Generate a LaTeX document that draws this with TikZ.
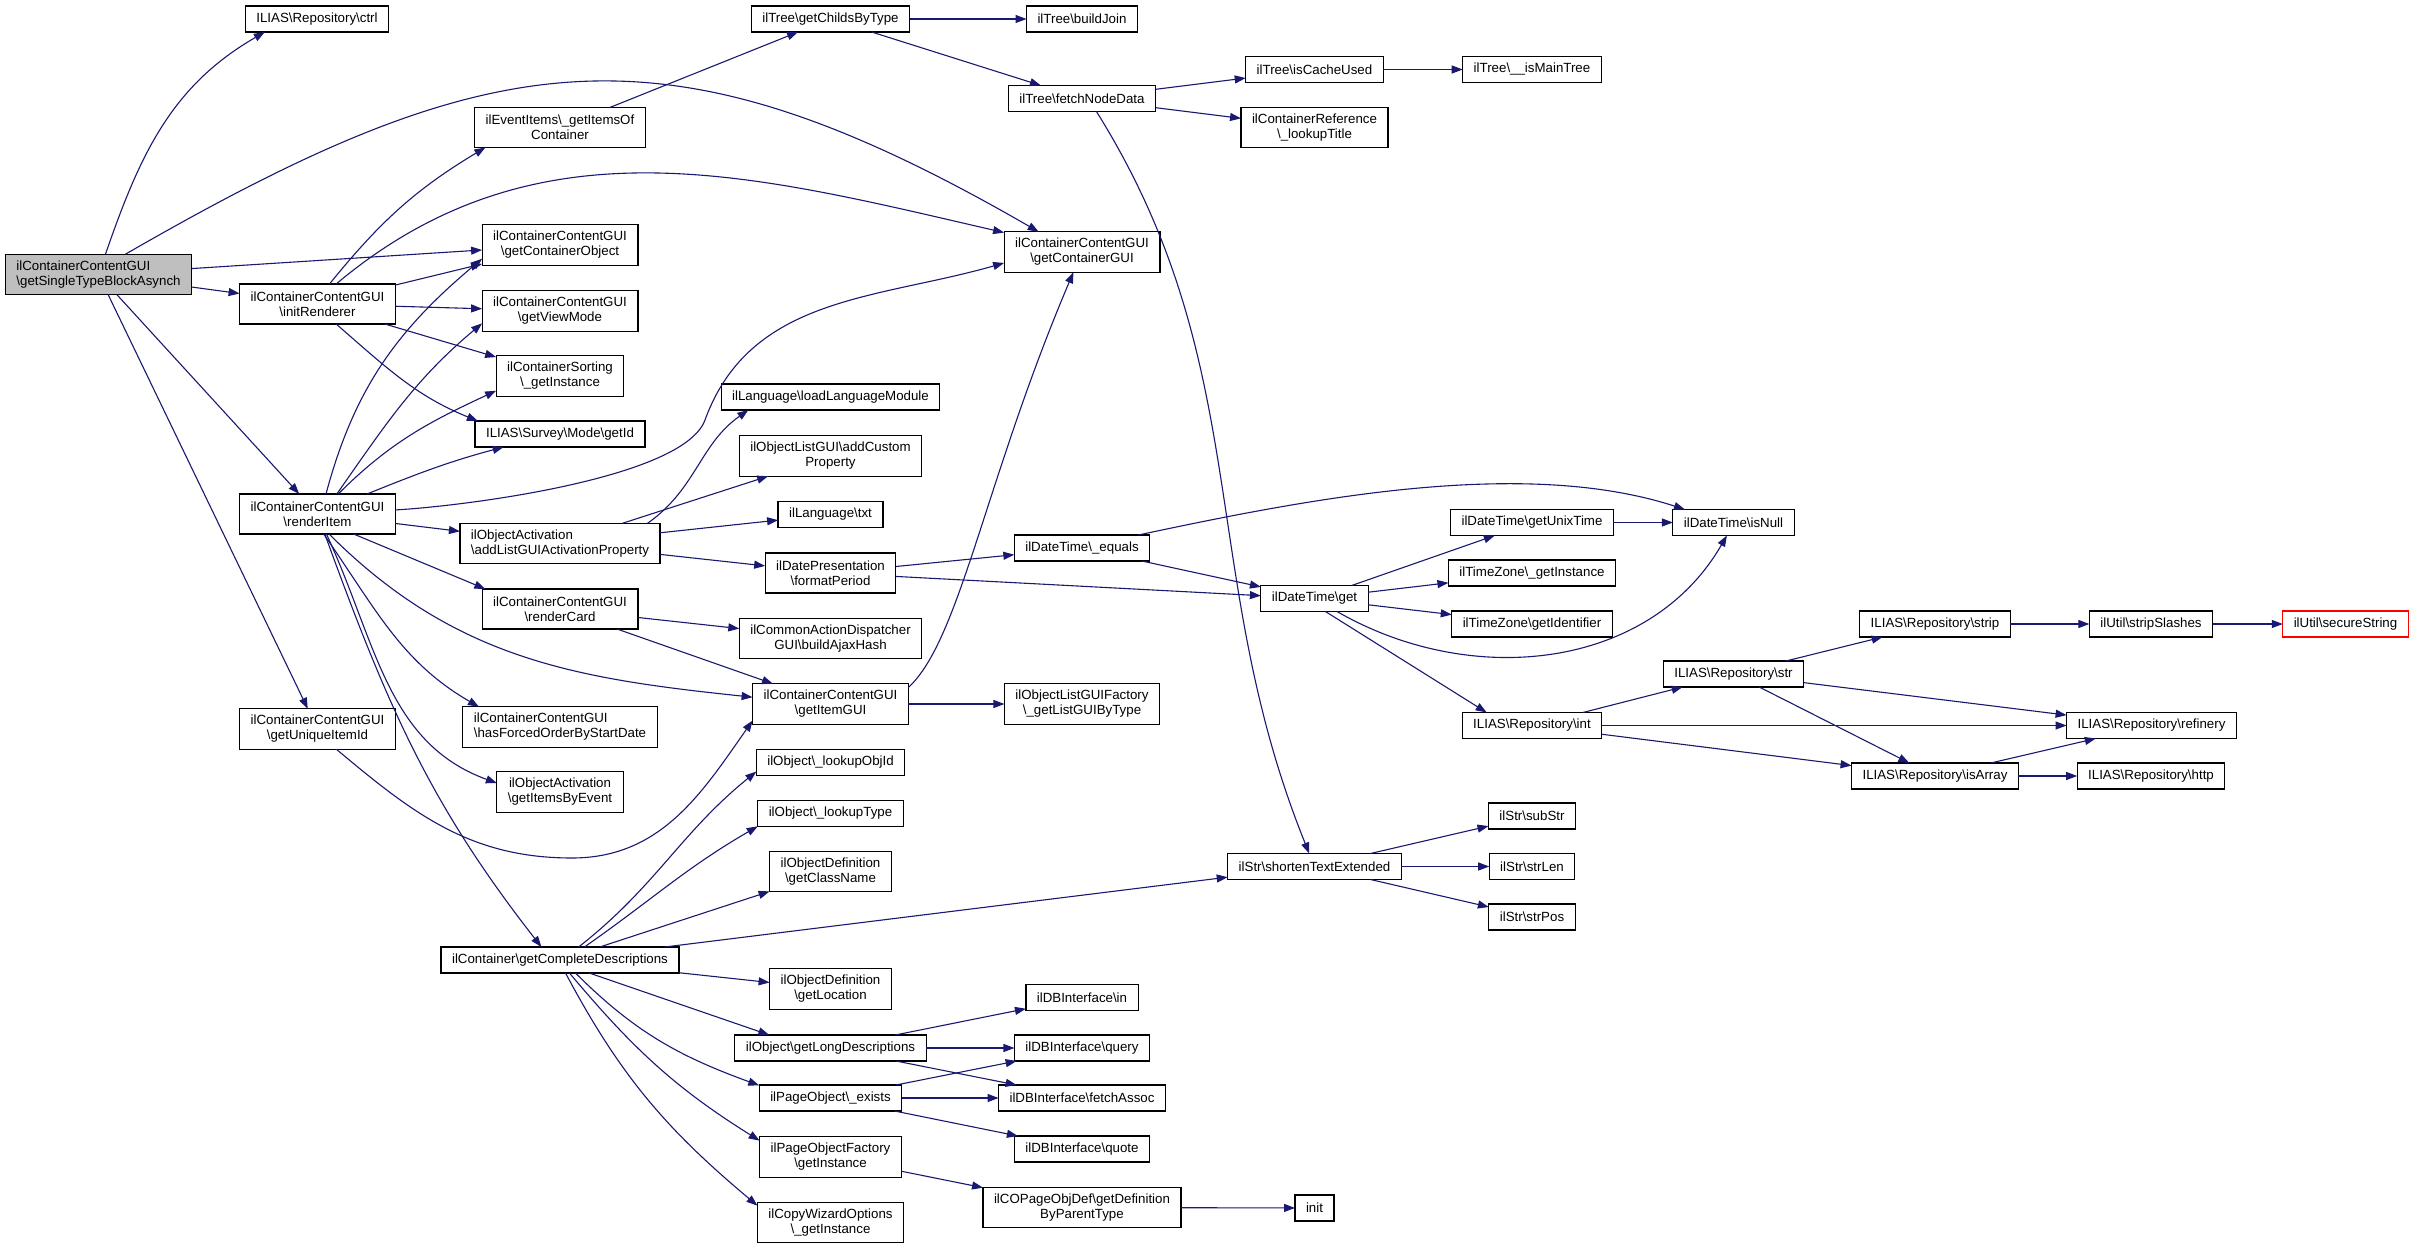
\documentclass[tikz,border=0pt]{standalone}
\usepackage{fontspec}
\setmainfont{Liberation Sans}
\usetikzlibrary{arrows.meta}
\newlength{\myboxlinewidth}
\setlength{\myboxlinewidth}{1.2pt}
\newlength{\myedgelinewidth}
\setlength{\myedgelinewidth}{1.1pt}
\newcommand{\mybs}{\textbackslash}
\definecolor{edgeblue}{HTML}{191970}
\definecolor{startgray}{HTML}{BFBFBF}

\begin{document}
\begin{tikzpicture}[%
            x=1pt,y=-1pt,%
            fnbox/.style={
                rectangle,draw=black,fill=white,
                line width=\myboxlinewidth,
                anchor=center,align=center,
                inner xsep=11pt,inner ysep=6.5pt,outer sep=0pt,
                font=\fontsize{13.3}{15}\selectfont,
                minimum height=26pt,
                },
            twoline/.style={fnbox,minimum height=40pt},
            startbox/.style={twoline,fill=startgray,align=left},
            callarrow/.style={
                draw=edgeblue,
                line width=\myedgelinewidth,
                -{Triangle[length=11pt,width=8pt]},
                },
            ]
        \useasboundingbox[fill=white] (0,0) rectangle (2415,1249);

        \node[startbox] (blockasynch) at (98.5,274.5) {ilContainerContentGUI\\\mybs{}getSingleTypeBlockAsynch};
        \node[fnbox] (ctrl) at (317,19) {ILIAS\mybs{}Repository\mybs{}ctrl};
        \node[twoline] (initrenderer) at (317.5,304) {ilContainerContentGUI\\\mybs{}initRenderer};
        \node[twoline] (renderitem) at (317.5,514) {ilContainerContentGUI\\\mybs{}renderItem};
        \node[twoline] (uniqueid) at (317.5,729) {ilContainerContentGUI\\\mybs{}getUniqueItemId};

        \node[twoline] (eventitems) at (560,127.5) {ilEventItems\mybs{}\_getItemsOf\\Container};
        \node[twoline] (contobj) at (560,245) {ilContainerContentGUI\\\mybs{}getContainerObject};
        \node[twoline] (viewmode) at (560,311) {ilContainerContentGUI\\\mybs{}getViewMode};
        \node[twoline] (sorting) at (560,376) {ilContainerSorting\\\mybs{}\_getInstance};
        \node[fnbox] (surveyid) at (560,434) {ILIAS\mybs{}Survey\mybs{}Mode\mybs{}getId};
        \node[twoline,align=left] (actprop) at (560,543.5) {ilObjectActivation\\\mybs{}addListGUIActivationProperty};
        \node[twoline] (rendercard) at (560,609) {ilContainerContentGUI\\\mybs{}renderCard};
        \node[twoline,align=left] (forcedorder) at (560,727) {ilContainerContentGUI\\\mybs{}hasForcedOrderByStartDate};
        \node[twoline] (itemsbyevent) at (560,792) {ilObjectActivation\\\mybs{}getItemsByEvent};
        \node[fnbox] (compdesc) at (560,960) {ilContainer\mybs{}getCompleteDescriptions};

        \node[fnbox] (childsbytype) at (830.5,19) {ilTree\mybs{}getChildsByType};
        \node[fnbox] (loadlang) at (830.5,397) {ilLanguage\mybs{}loadLanguageModule};
        \node[twoline] (customprop) at (830.5,456) {ilObjectListGUI\mybs{}addCustom\\Property};
        \node[fnbox] (langtxt) at (830.5,514.5) {ilLanguage\mybs{}txt};
        \node[twoline] (formatperiod) at (830.5,573) {ilDatePresentation\\\mybs{}formatPeriod};
        \node[twoline] (ajaxhash) at (830.5,638.5) {ilCommonActionDispatcher\\GUI\mybs{}buildAjaxHash};
        \node[twoline] (itemgui) at (830.5,704) {ilContainerContentGUI\\\mybs{}getItemGUI};
        \node[fnbox] (lookupobjid) at (830.5,762.5) {ilObject\mybs{}\_lookupObjId};
        \node[fnbox] (lookuptype) at (830.5,813.5) {ilObject\mybs{}\_lookupType};
        \node[twoline] (classname) at (830.5,871.5) {ilObjectDefinition\\\mybs{}getClassName};
        \node[twoline] (location) at (830.5,989) {ilObjectDefinition\\\mybs{}getLocation};
        \node[fnbox] (longdesc) at (830.5,1048) {ilObject\mybs{}getLongDescriptions};
        \node[fnbox] (pageexists) at (830.5,1098) {ilPageObject\mybs{}\_exists};
        \node[twoline] (pagefactory) at (830.5,1157) {ilPageObjectFactory\\\mybs{}getInstance};
        \node[twoline] (copywizard) at (830.5,1222.5) {ilCopyWizardOptions\\\mybs{}\_getInstance};

        \node[fnbox] (buildjoin) at (1082,19) {ilTree\mybs{}buildJoin};
        \node[fnbox] (fetchnode) at (1082,98.5) {ilTree\mybs{}fetchNodeData};
        \node[twoline] (contgui) at (1082,252) {ilContainerContentGUI\\\mybs{}getContainerGUI};
        \node[fnbox] (dtequals) at (1082,548) {ilDateTime\mybs{}\_equals};
        \node[twoline] (listgui) at (1082,704) {ilObjectListGUIFactory\\\mybs{}\_getListGUIByType};
        \node[fnbox] (dbin) at (1082,997.5) {ilDBInterface\mybs{}in};
        \node[fnbox] (dbquery) at (1082,1048) {ilDBInterface\mybs{}query};
        \node[fnbox] (dbfetch) at (1082,1098) {ilDBInterface\mybs{}fetchAssoc};
        \node[fnbox] (dbquote) at (1082,1149) {ilDBInterface\mybs{}quote};
        \node[twoline] (copagedef) at (1082,1207.5) {ilCOPageObjDef\mybs{}getDefinition\\ByParentType};

        \node[fnbox] (cacheused) at (1314.5,69.5) {ilTree\mybs{}isCacheUsed};
        \node[twoline] (lookuptitle) at (1314.5,127.5) {ilContainerReference\\\mybs{}\_lookupTitle};
        \node[fnbox] (dtget) at (1314.5,598.5) {ilDateTime\mybs{}get};
        \node[fnbox] (shorten) at (1314.5,866.5) {ilStr\mybs{}shortenTextExtended};
        \node[fnbox] (init) at (1314.5,1208) {init};

        \node[fnbox] (maintree) at (1532,69.5) {ilTree\mybs{}\_\_isMainTree};
        \node[fnbox] (unixtime) at (1532,522.5) {ilDateTime\mybs{}getUnixTime};
        \node[fnbox] (tzinstance) at (1532,573) {ilTimeZone\mybs{}\_getInstance};
        \node[fnbox] (tzident) at (1532,624) {ilTimeZone\mybs{}getIdentifier};
        \node[fnbox] (repoint) at (1532,725.5) {ILIAS\mybs{}Repository\mybs{}int};
        \node[fnbox] (substr) at (1532,816) {ilStr\mybs{}subStr};
        \node[fnbox] (strlen) at (1532,866.5) {ilStr\mybs{}strLen};
        \node[fnbox] (strpos) at (1532,917) {ilStr\mybs{}strPos};

        \node[fnbox] (isnull) at (1733.5,522.5) {ilDateTime\mybs{}isNull};
        \node[fnbox] (repostr) at (1733.5,674) {ILIAS\mybs{}Repository\mybs{}str};
        \node[fnbox] (repostrip) at (1935,624) {ILIAS\mybs{}Repository\mybs{}strip};
        \node[fnbox] (isarray) at (1935,776) {ILIAS\mybs{}Repository\mybs{}isArray};
        \node[fnbox] (stripslashes) at (2151,624) {ilUtil\mybs{}stripSlashes};
        \node[fnbox] (refinery) at (2151.5,725.5) {ILIAS\mybs{}Repository\mybs{}refinery};
        \node[fnbox] (http) at (2151,776) {ILIAS\mybs{}Repository\mybs{}http};
        \node[fnbox,draw=red] (securestring) at (2345.5,624) {ilUtil\mybs{}secureString};

        \draw[callarrow] (blockasynch.71) to[out=71,in=210] (ctrl.194);
        \draw[callarrow] (blockasynch.37) to[out=30,in=150,looseness=1.2] (contgui.155);
        \draw[callarrow] (blockasynch) -- (contobj);
        \draw[callarrow] (blockasynch) -- (initrenderer);
        \draw[callarrow] (blockasynch) -- (renderitem);
        \draw[callarrow] (blockasynch) -- (uniqueid);

        \draw[callarrow] (initrenderer.59) to[out=51,in=211] (eventitems.195);
        \draw[callarrow] (initrenderer.47) to[out=40,in=167] (contgui.166);
        \draw[callarrow] (initrenderer) -- (contobj);
        \draw[callarrow] (initrenderer) -- (viewmode);
        \draw[callarrow] (initrenderer) -- (sorting);
        \draw[callarrow] (initrenderer.-47) to[out=-41,in=158] (surveyid.171);

        \draw[callarrow] (renderitem.67) to[out=75,in=220] (contobj.190);
        \draw[callarrow] (renderitem.46) to[out=55,in=220] (viewmode.189);
        \draw[callarrow] (renderitem.44) to[out=45,in=205] (sorting.193);
        \draw[callarrow] (renderitem.22) to[out=22,in=195] (surveyid.193);
        \draw[callarrow] (renderitem.3) to[out=3,in=250,looseness=0.5] (705,420) to[out=70,in=196] (contgui.188);
        \draw[callarrow] (renderitem) -- (actprop);
        \draw[callarrow] (renderitem.-29) -- (rendercard.165);
        \draw[callarrow] (renderitem.-60) to[out=-45,in=174] (itemgui.175);
        \draw[callarrow] (renderitem.-73) to[out=-55,in=150] (forcedorder.166);
        \draw[callarrow] (renderitem.-66) to[out=-65,in=160] (itemsbyevent.172);
        \draw[callarrow] (renderitem.-70) to[out=-70,in=128] (compdesc.145);

        \draw[callarrow] (uniqueid.-47) to[out=-40,in=180] (572,858) to[out=0,in=235] (itemgui.-168);

        \draw[callarrow] (eventitems) -- (childsbytype);
        \draw[callarrow] (childsbytype) -- (buildjoin);
        \draw[callarrow] (childsbytype) -- (fetchnode);
        \draw[callarrow] (fetchnode) -- (cacheused);
        \draw[callarrow] (fetchnode) -- (lookuptitle);
        \draw[callarrow] (fetchnode.-42) to[out=-58,in=112] (shorten.112);
        \draw[callarrow] (cacheused) -- (maintree);

        \draw[callarrow] (actprop.13.5) to[out=35,in=215] (loadlang.189);
        \draw[callarrow] (actprop) -- (customprop);
        \draw[callarrow] (actprop) -- (langtxt);
        \draw[callarrow] (actprop) -- (formatperiod);
        \draw[callarrow] (rendercard) -- (ajaxhash);
        \draw[callarrow] (rendercard) -- (itemgui);
        \draw[callarrow] (itemgui.12) .. controls (960,640) and (985,480) .. (contgui.-113);
        \draw[callarrow] (itemgui) -- (listgui);

        \draw[callarrow] (formatperiod) -- (dtequals);
        \draw[callarrow] (formatperiod) -- (dtget);
        \draw[callarrow] (dtequals.13) to[out=12,in=162,looseness=0.8] (isnull.165);
        \draw[callarrow] (dtequals) -- (dtget);
        \draw[callarrow] (dtget) -- (unixtime);
        \draw[callarrow] (dtget) -- (tzinstance);
        \draw[callarrow] (dtget) -- (tzident);
        \draw[callarrow] (dtget.-30) to[out=-30,in=240] (isnull.-117);
        \draw[callarrow] (dtget.-50) -- (repoint.164);
        \draw[callarrow] (unixtime) -- (isnull);

        \draw[callarrow] (repoint) -- (repostr);
        \draw[callarrow] (repoint) -- (refinery);
        \draw[callarrow] (repoint) -- (isarray);
        \draw[callarrow] (repostr) -- (repostrip);
        \draw[callarrow] (repostr) -- (refinery);
        \draw[callarrow] (repostr) -- (isarray);
        \draw[callarrow] (repostrip) -- (stripslashes);
        \draw[callarrow] (stripslashes) -- (securestring);
        \draw[callarrow] (isarray) -- (refinery);
        \draw[callarrow] (isarray) -- (http);

        \draw[callarrow] (compdesc.35) to[out=38,in=219] (lookupobjid.187);
        \draw[callarrow] (compdesc.28) to[out=35,in=210] (lookuptype.190);
        \draw[callarrow] (compdesc) -- (classname);
        \draw[callarrow] (compdesc) -- (shorten);
        \draw[callarrow] (compdesc) -- (location);
        \draw[callarrow] (compdesc.-24) -- (longdesc.168);
        \draw[callarrow] (compdesc.-40) to[out=-45,in=160] (pageexists.170);
        \draw[callarrow] (compdesc.-54) to[out=-50,in=148] (pagefactory.167);
        \draw[callarrow] (compdesc.-67) to[out=-62,in=140] (copywizard.167);

        \draw[callarrow] (shorten) -- (substr);
        \draw[callarrow] (shorten) -- (strlen);
        \draw[callarrow] (shorten) -- (strpos);
        \draw[callarrow] (longdesc) -- (dbin);
        \draw[callarrow] (longdesc) -- (dbquery);
        \draw[callarrow] (longdesc) -- (dbfetch);
        \draw[callarrow] (pageexists) -- (dbquery);
        \draw[callarrow] (pageexists) -- (dbfetch);
        \draw[callarrow] (pageexists) -- (dbquote);
        \draw[callarrow] (pagefactory) -- (copagedef);
        \draw[callarrow] (copagedef) -- (init);
    \end{tikzpicture}
\end{document}
